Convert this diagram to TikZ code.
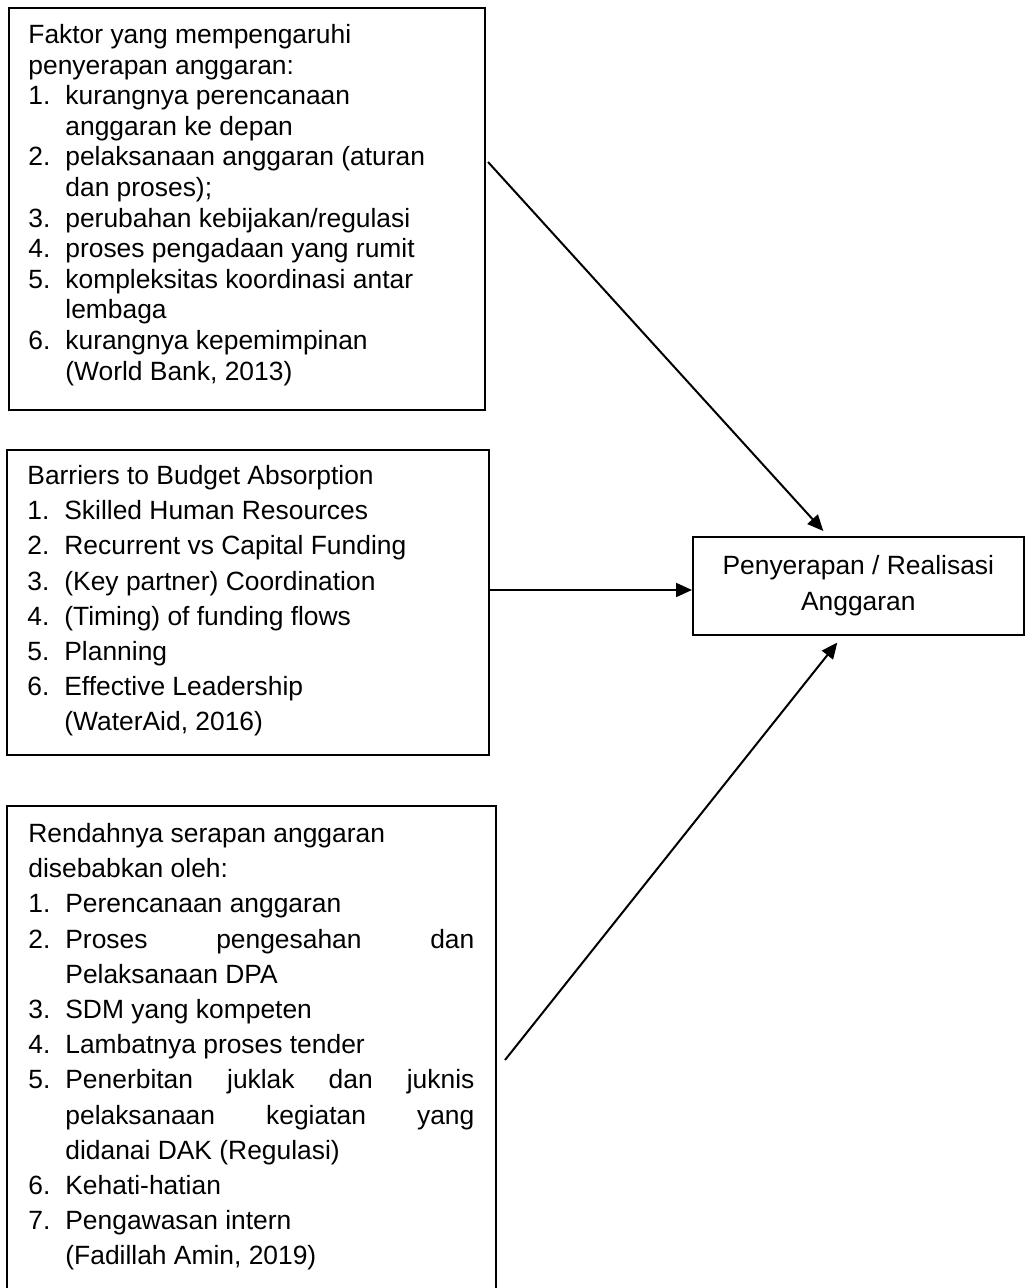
\documentclass[tikz,border=0pt]{standalone}
\usepackage{fontspec}
\setmainfont{Liberation Sans}
\usetikzlibrary{positioning,arrows.meta}

\tolerance=10000
\hyphenpenalty=10000
\newcommand{\nitem}[2]{\par\noindent\hangindent=18.5pt\hangafter=1\makebox[18.5pt][l]{#1}#2\par}

\begin{document}
\begin{tikzpicture}[x=0.5pt,y=-0.5pt,
    frame/.style={draw, line width=0.8pt, anchor=north west, inner sep=0pt},
    txt/.style={inner sep=0pt, align=flush left, text width=221pt, font=\fontsize{13.2}{15.3}\selectfont},
    arr/.style={-{Triangle[length=8pt,width=7pt]}, line width=1pt}]

        \useasboundingbox (0,0) rectangle (1024,1288);

        % Frames
        \node[frame, minimum width=238pt, minimum height=201pt] (faktor) at (8,7) {};
        \node[frame, minimum width=241pt, minimum height=152.5pt] (barrier) at (6,449) {};
        \node[frame, minimum width=244.5pt, minimum height=245pt] (rendah) at (6,805) {};
        \node[frame, minimum width=165.5pt, minimum height=49pt, align=center,
              font=\fontsize{13.2}{18}\selectfont] (serapan) at (692,536)
          {Penyerapan / Realisasi\\Anggaran};

        % Lists
        \node[txt, below right=8.5pt and 10pt of faktor.north west] (faktortxt)
          {\noindent Faktor yang mempengaruhi\newline penyerapan anggaran:
           \nitem{1.}{kurangnya perencanaan\newline anggaran ke depan}
           \nitem{2.}{pelaksanaan anggaran (aturan\newline dan proses);}
           \nitem{3.}{perubahan kebijakan/regulasi}
           \nitem{4.}{proses pengadaan yang rumit}
           \nitem{5.}{kompleksitas koordinasi antar\newline lembaga}
           \nitem{6.}{kurangnya kepemimpinan\newline (World Bank, 2013)}};
        \node[txt, font=\fontsize{13.2}{17.6}\selectfont,
              below right=8pt and 10.5pt of barrier.north west] (barriertxt)
          {\noindent Barriers to Budget Absorption
           \nitem{1.}{Skilled Human Resources}
           \nitem{2.}{Recurrent vs Capital Funding}
           \nitem{3.}{(Key partner) Coordination}
           \nitem{4.}{(Timing) of funding flows}
           \nitem{5.}{Planning}
           \nitem{6.}{Effective Leadership\newline (WaterAid, 2016)}};
        \node[txt, font=\fontsize{13.2}{17.6}\selectfont, align=justify, text width=223pt,
              below right=9pt and 11pt of rendah.north west] (rendahtxt)
          {\noindent Rendahnya serapan anggaran\newline disebabkan oleh:
           \nitem{1.}{Perencanaan anggaran}
           \nitem{2.}{Proses pengesahan dan\linebreak Pelaksanaan DPA}
           \nitem{3.}{SDM yang kompeten}
           \nitem{4.}{Lambatnya proses tender}
           \nitem{5.}{Penerbitan juklak dan juknis\linebreak pelaksanaan kegiatan yang\linebreak didanai DAK (Regulasi)}
           \nitem{6.}{Kehati-hatian}
           \nitem{7.}{Pengawasan intern\newline (Fadillah Amin, 2019)}};

        % Arrows
        \coordinate (a1) at (488,162);
        \coordinate (a2) at (488,590);
        \coordinate (a3) at (505,1060);
        \draw[arr] (a1) -- ([shift={(-35,-5)}]serapan.north);
        \draw[arr] (a2) -- (serapan.west |- a2);
        \draw[arr] (a3) -- ([shift={(-21,7)}]serapan.south);
    \end{tikzpicture}
\end{document}
